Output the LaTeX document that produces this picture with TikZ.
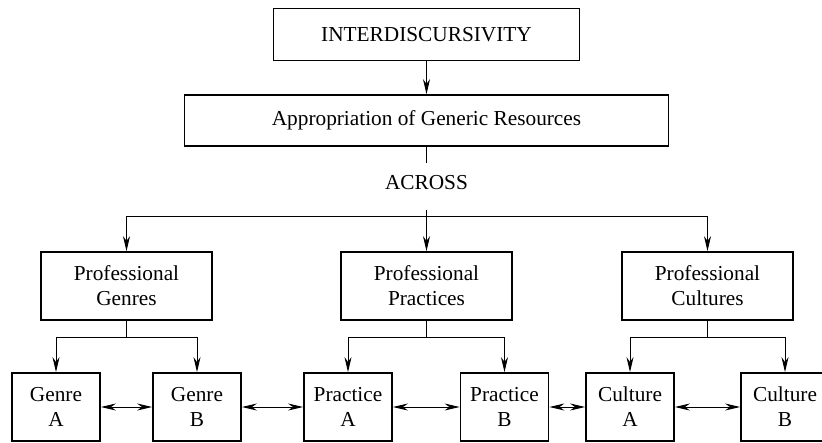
\documentclass[tikz,border=0pt]{standalone}
\usepackage{fontspec}
\setmainfont{Liberation Serif}
\usepackage{tikz}
\usetikzlibrary{arrows.meta}
\usetikzlibrary{positioning}

\begin{document}
\begin{tikzpicture}[
		x=1pt, y=-1pt,
		Boxes/.style={draw=black, line width=1.8pt, inner sep=0pt, align=center,
			font=\fontsize{21.3}{25}\selectfont},
		TopBoxes/.style={Boxes, minimum height=52pt},
		MidBoxes/.style={Boxes, minimum width=171pt, minimum height=68pt},
		SmallBoxes/.style={Boxes, minimum width=88pt, minimum height=68pt},
		Plain/.style={draw=black, line width=0.9pt},
		Links/.style={Plain, -{Stealth[length=15pt, width=7pt]}},
		TwoWay/.style={Plain, {Stealth[length=15pt, width=7pt]}-{Stealth[length=15pt, width=7pt]}}
		]
		
		\useasboundingbox (0,0) rectangle (822,442);
		
		% top of the tree
		\node[TopBoxes, minimum width=306pt] (inter) at (426.5,34.5) {INTERDISCURSIVITY};
		\node[TopBoxes, minimum width=484pt, minimum height=51pt] (approp) at (426.5,120.5) {Appropriation of Generic Resources};
		\node[font=\fontsize{21.3}{25}\selectfont, anchor=base, inner xsep=2pt, inner ysep=12.5pt, text depth=8pt] (across) at (426.5,189.5) {ACROSS};
		
		% professional level
		\node[MidBoxes] (genres) at (126.5,286) {Professional\\Genres};
		\node[MidBoxes] (practices) at (426.5,286) {Professional\\Practices};
		\node[MidBoxes] (cultures) at (707.5,286) {Professional\\Cultures};
		
		% bottom row
		\node[SmallBoxes] (genreA) at (56,407) {Genre\\A};
		\node[SmallBoxes] (genreB) at (197,407) {Genre\\B};
		\node[SmallBoxes] (practiceA) at (348,407) {Practice\\A};
		\node[SmallBoxes] (practiceB) at (504.5,407) {Practice\\B};
		\node[SmallBoxes] (cultureA) at (630,407) {Culture\\A};
		\node[SmallBoxes] (cultureB) at (785,407) {Culture\\B};
		
		\draw[Links] (inter) -- (approp);
		\draw[Plain] (approp) -- (across);
		\draw[Links] (across) -- (practices);
		
		\coordinate (fork) at (426.5,216);
		\draw[Links] (fork) -| (genres);
		\draw[Links] (fork) -| (cultures);
		
		\draw[Links] (genres.south) -- ++(0,17) -| (genreA);
		\draw[Links] (genres.south) -- ++(0,17) -| (genreB);
		\draw[Links] (practices.south) -- ++(0,17) -| (practiceA);
		\draw[Links] (practices.south) -- ++(0,17) -| (practiceB);
		\draw[Links] (cultures.south) -- ++(0,17) -| (cultureA);
		\draw[Links] (cultures.south) -- ++(0,17) -| (cultureB);
		
		% two-way links along the bottom
		\draw[TwoWay] (genreA) -- (genreB);
		\draw[TwoWay] (genreB) -- (practiceA);
		\draw[TwoWay] (practiceA) -- (practiceB);
		\draw[TwoWay] (practiceB) -- (cultureA);
		\draw[TwoWay] (cultureA) -- (cultureB);
		
	\end{tikzpicture}
\end{document}
